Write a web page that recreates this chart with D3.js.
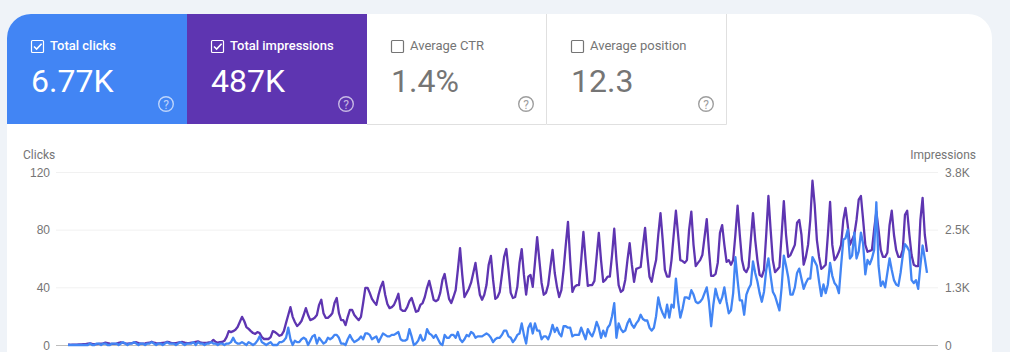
<!DOCTYPE html>
<html>
<head>
<meta charset="utf-8">
<script src="https://cdn.jsdelivr.net/npm/d3@7"></script>
<style>
  html, body { margin: 0; padding: 0; background: #eff3f8; overflow: hidden; }
  svg { display: block; font-family: Roboto, sans-serif; }
  .tick text { font-size: 12px; fill: #757575; }
</style>
</head>
<body>
<div id="chart"></div>
<script>
// Summary tiles
const tileTitles = ["Total clicks", "Total impressions", "Average CTR", "Average position"];
const tileValues = ["6.77K", "487K", "1.4%", "12.3"];

// Axis ticks
const clickTicks = [0, 40, 80, 120];
const impressionTicks = [0, 1250, 2500, 3750];
const impressionTickLabels = ["0", "1.3K", "2.5K", "3.8K"];

// Daily clicks, one row per week
const clicks = [
  0,0,0,0,0,0,0,
  0,0,0,1,0,0,1,
  1,0,1,1,0,0,1,
  1,1,0,1,2,1,0,
  1,1,2,1,0,1,1,
  0,1,1,2,1,0,1,
  1,0,1,2,1,1,1,
  0,1,2,1,0,1,1,
  1,2,0,2,1,1,0,
  1,1,2,1,1,0,1,
  1,0,1,1,2,5,2,
  1,1,2,1,0,2,1,
  0,1,3,6,2,1,0,
  1,2,0,0,0,2,2,
  3,5,12,4,0,3,2,
  2,4,5,4,0,3,6,
  7,1,5,3,1,2,5,
  4,5,7,7,5,1,1,
  0,4,7,4,2,3,4,
  6,4,8,8,7,4,5,
  6,2,5,8,7,6,6,
  7,7,8,9,4,3,3,
  4,11,6,0,1,3,7,
  3,4,11,8,7,5,7,
  4,1,0,7,5,5,7,
  7,5,9,4,2,4,7,
  6,9,8,5,6,6,6,
  7,8,7,5,2,4,5,
  5,7,10,10,6,5,2,
  4,7,8,15,7,1,12,
  15,8,15,10,10,4,6,
  6,4,8,14,9,12,8,
  6,13,13,12,12,6,7,
  7,7,12,8,4,11,8,
  6,10,16,12,5,10,6,
  12,14,20,29,5,15,11,
  9,10,15,18,14,12,15,
  17,21,18,17,17,12,10,
  12,20,33,26,22,19,28,
  19,28,26,46,30,19,25,
  33,33,32,38,35,30,29,
  30,32,36,40,30,13,28,
  39,33,29,33,40,30,22,
  24,36,61,45,31,31,21,
  35,39,42,58,50,44,36,
  30,37,52,60,48,37,34,
  29,24,40,62,55,47,35,
  35,40,50,53,46,39,43,
  46,46,61,58,55,44,34,
  42,36,42,57,48,43,41,
  36,55,73,74,80,60,62,
  78,60,65,78,70,49,59,
  56,60,66,99,55,41,44,
  40,50,60,52,45,42,41,
  50,62,70,68,65,45,43,
  45,39,55,69,60,50
];

// Daily impressions, one row per week
const impressions = [
  5,5,10,10,10,15,15,
  20,20,30,35,25,20,20,
  25,30,35,50,40,30,25,
  25,30,45,60,45,35,30,
  35,40,50,60,40,30,30,
  35,45,50,70,50,40,35,
  40,45,50,70,60,40,40,
  40,50,60,65,50,40,40,
  50,55,70,80,60,45,45,
  45,55,65,110,70,50,60,
  65,90,170,300,280,300,330,
  390,500,610,520,390,350,300,
  260,240,280,260,170,130,130,
  130,170,300,280,240,200,220,
  300,480,650,820,610,500,410,
  455,520,650,800,650,540,560,
  590,650,870,980,690,590,590,
  630,690,910,1020,690,540,540,
  430,610,760,760,650,590,540,
  610,910,1240,1240,1130,1000,930,
  870,1090,1260,1370,1090,890,800,
  820,870,980,1110,780,740,740,
  820,950,1020,870,720,740,870,
  910,1040,1240,1390,1190,980,950,
  980,1130,1410,1540,1260,1000,910,
  1040,1190,1630,2100,1520,1040,1130,
  1220,1350,1560,1780,1410,1090,980,
  1090,1300,1740,1930,1410,1000,1040,
  1150,1520,1910,2080,1630,1130,1020,
  1040,1260,1780,2080,1520,1090,1480,
  1520,1260,1780,2340,1840,1350,1090,
  1130,1300,1690,2060,1560,1260,1040,
  1190,1630,2170,2670,1840,1150,1260,
  1300,1300,1840,2450,1840,1280,1300,
  1300,1390,1910,2430,1840,1370,1410,
  1480,1480,1950,2520,1840,1300,1150,
  1190,1410,1840,2210,1740,1370,1650,
  1670,1690,2130,2540,1950,1480,1370,
  1630,1840,2390,2860,2280,1630,1480,
  1480,1840,2390,2910,2390,1840,1820,
  1780,1840,2500,2890,2170,1710,1780,
  1840,1950,2340,2730,2060,1500,1500,
  1540,1780,2430,2600,2170,1800,1840,
  1740,1840,2390,3020,2390,1840,1630,
  1580,1690,2280,2860,2280,1840,1520,
  1480,1630,2390,3230,2500,1840,1580,
  1630,1690,2390,3120,2390,1910,1950,
  2060,2170,2650,2710,2390,1740,1910,
  2170,2710,3560,3040,2280,1910,1650,
  1690,1740,2390,3100,2170,1840,1910,
  2020,2170,2710,2970,2600,2170,2280,
  2390,2710,3150,3230,2710,2170,2020,
  2040,2060,2500,2890,2500,2060,1910,
  1910,2000,2600,2910,2390,2060,1910,
  1910,2060,2820,2910,2390,1950,1740,
  1710,1710,2710,3190,2390,2020
];

const svg = d3.select("#chart")
  .append("svg")
  .attr("width", 1010)
  .attr("height", 352);

// White card with rounded top corners
svg.append("path")
  .attr("d", "M7,352V38a24,24 0 0 1 24,-24H968a24,24 0 0 1 24,24V352Z")
  .attr("fill", "#fff");

svg.append("clipPath")
  .attr("id", "card-clip")
  .append("path")
  .attr("d", "M7,352V38a24,24 0 0 1 24,-24H968a24,24 0 0 1 24,24V352Z");

// Tiles
const tileColors = ["#4285f4", "#5e35b1", "#fff", "#fff"];
const tileWidth = 180;
const tiles = svg.append("g")
  .attr("clip-path", "url(#card-clip)")
  .selectAll("g")
  .data(tileTitles)
  .join("g")
  .attr("transform", (d, i) => `translate(${7 + i * tileWidth},14)`);

tiles.append("rect")
  .attr("width", tileWidth)
  .attr("height", 110)
  .attr("fill", (d, i) => tileColors[i]);

// Thin borders on the two unselected tiles
tiles.filter((d, i) => i > 1).append("path")
  .attr("d", `M0,110.5H${tileWidth - 0.5}V0`)
  .attr("fill", "none")
  .attr("stroke", "#e0e0e0");

const ink = (d, i) => i < 2 ? "#fff" : "#757575";
const helpInk = (d, i) => i < 2 ? "rgba(255,255,255,0.65)" : "#9e9e9e";

tiles.append("rect")
  .attr("x", 24.5)
  .attr("y", 26.5)
  .attr("width", 12)
  .attr("height", 12)
  .attr("rx", 1)
  .attr("fill", "none")
  .attr("stroke", ink)
  .attr("stroke-width", 1.2);

tiles.filter((d, i) => i < 2).append("path")
  .attr("d", "M27,32.5l2.6,2.6l5,-5.4")
  .attr("fill", "none")
  .attr("stroke", "#fff")
  .attr("stroke-width", 1.5);

tiles.append("text")
  .attr("x", 43)
  .attr("y", 36)
  .attr("font-size", 13)
  .attr("font-weight", (d, i) => i < 2 ? 500 : 400)
  .attr("fill", ink)
  .text(d => d);

tiles.append("text")
  .attr("x", 24)
  .attr("y", 78)
  .attr("font-size", 32)
  .attr("fill", ink)
  .text((d, i) => tileValues[i]);

tiles.append("circle")
  .attr("cx", 159)
  .attr("cy", 90)
  .attr("r", 7.3)
  .attr("fill", "none")
  .attr("stroke", helpInk)
  .attr("stroke-width", 1.4);

tiles.append("text")
  .attr("x", 159)
  .attr("y", 94.5)
  .attr("text-anchor", "middle")
  .attr("font-size", 12)
  .attr("fill", helpInk)
  .text("?");

// Chart scales
const x = d3.scaleLinear()
  .domain([0, clicks.length - 1])
  .range([68, 927]);

const yClicks = d3.scaleLinear()
  .domain([0, 120])
  .range([345, 172]);

const yImpressions = d3.scaleLinear()
  .domain([0, 3750])
  .range([345, 172]);

// Tick labels on both sides
const leftAxis = svg.append("g")
  .attr("transform", "translate(56,0)")
  .call(d3.axisLeft(yClicks)
    .tickValues(clickTicks)
    .tickSize(0)
    .tickPadding(6));
leftAxis.select(".domain").remove();
leftAxis.selectAll(".tick text").attr("dy", "0.34em");

const rightAxis = svg.append("g")
  .attr("transform", "translate(938,0)")
  .call(d3.axisRight(yImpressions)
    .tickValues(impressionTicks)
    .tickFormat((d, i) => impressionTickLabels[i])
    .tickSize(0)
    .tickPadding(7));
rightAxis.select(".domain").remove();
rightAxis.selectAll(".tick text").attr("dy", "0.34em");

// Gridlines
svg.append("g")
  .selectAll("line")
  .data(clickTicks)
  .join("line")
  .attr("x1", 56)
  .attr("x2", 938)
  .attr("y1", d => yClicks(d) + 0.5)
  .attr("y2", d => yClicks(d) + 0.5)
  .attr("stroke", d => d === 0 ? "#bdbdbd" : "#f1f1f1");

svg.append("text")
  .attr("x", 23)
  .attr("y", 159)
  .attr("font-size", 12)
  .attr("fill", "#757575")
  .text("Clicks");

svg.append("text")
  .attr("x", 976)
  .attr("y", 159)
  .attr("text-anchor", "end")
  .attr("font-size", 12)
  .attr("fill", "#757575")
  .text("Impressions");

// Impressions underneath, clicks on top
svg.append("path")
  .attr("fill", "none")
  .attr("stroke", "#5e35b1")
  .attr("stroke-width", 2.3)
  .attr("stroke-linejoin", "round")
  .attr("d", d3.line()
    .x((d, i) => x(i))
    .y(d => yImpressions(d))
    (impressions));

svg.append("path")
  .attr("fill", "none")
  .attr("stroke", "#4285f4")
  .attr("stroke-width", 2.3)
  .attr("stroke-linejoin", "round")
  .attr("d", d3.line()
    .x((d, i) => x(i))
    .y(d => yClicks(d))
    (clicks));
</script>
</body>
</html>
